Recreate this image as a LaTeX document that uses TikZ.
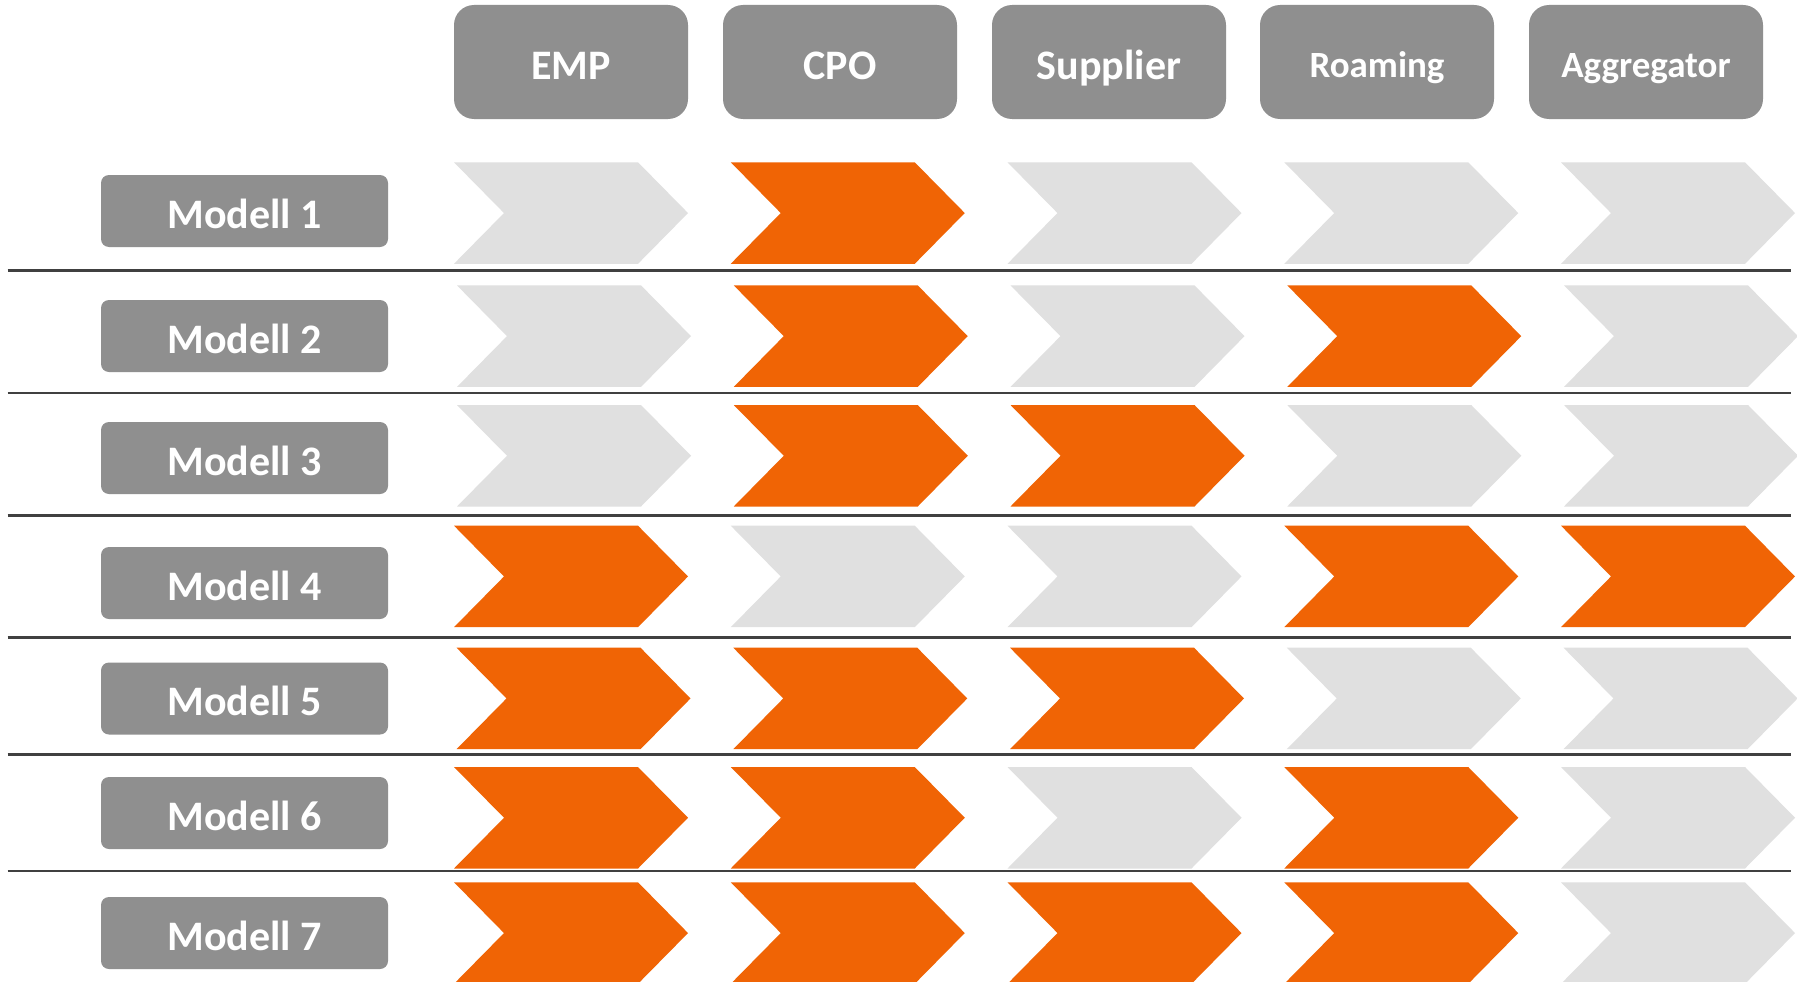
\documentclass[tikz,border=0pt]{standalone}
\usepackage{fontspec}
\setmainfont{Carlito}
\definecolor{boxgray}{HTML}{8F8F8F}
\definecolor{chev0}{HTML}{E0E0E0}
\definecolor{chev1}{HTML}{F06405}
\definecolor{rulegray}{HTML}{404040}
\begin{document}
\begin{tikzpicture}[x=1pt,y=-1pt,
  label box/.style={fill=boxgray, text=white, font=\fontsize{42}{50}\selectfont\bfseries,
    inner sep=0pt, text height=34.6pt, text depth=0pt, anchor=center},
  header/.style={label box, rounded corners=20pt, minimum width=234pt, minimum height=114pt},
  small label/.style={font=\fontsize{37}{44}\selectfont\bfseries, text height=30.6pt},
  model/.style={label box, rounded corners=8pt, minimum width=287pt, minimum height=72pt},
  sep rule/.style={draw=rulegray, line width=2.5pt}]
\fill[white] (0,0) rectangle (1797,982);
\useasboundingbox (0,0) rectangle (1797,982);

% header boxes
\node[header] (hEMP) at (571,62) {EMP};
\node[header] (hCPO) at (840,62) {CPO};
\node[header] (hSup) at (1109,62) {Supplier};
\node[header, small label] (hRoam) at (1377,62) {Roaming};
\node[header, small label] (hAgg) at (1646,62) {Aggregator};

% chevrons: row / top / x offset / states
\foreach \r/\t/\d/\st in {
  1/162.3/0/{0,1,0,0,0},
  2/285.4/3/{0,1,0,1,0},
  3/405.0/3/{0,1,1,0,0},
  4/525.7/0/{1,0,0,1,1},
  5/647.7/2.5/{1,1,1,0,0},
  6/767.0/0/{1,1,0,1,0},
  7/882.3/0/{1,1,1,1,0}}{
  \foreach \s [count=\c from 0] in \st {
    \pgfmathsetmacro{\L}{454+\c*276.75+\d}
    \fill[fill=chev\s] (\L,\t) -- ++(184,0) -- ++(50,50.75) -- ++(-50,50.75)
      -- ++(-184,0) -- ++(50,-50.75) -- cycle;
  }
}

% model labels
\node[model] (m1) at (244.5,211) {Modell 1};
\node[model] (m2) at (244.5,336) {Modell 2};
\node[model] (m3) at (244.5,458) {Modell 3};
\node[model] (m4) at (244.5,583) {Modell 4};
\node[model] (m5) at (244.5,698.5) {Modell 5};
\node[model] (m6) at (244.5,813) {Modell 6};
\node[model] (m7) at (244.5,933) {Modell 7};

% separator rules
\foreach \i/\y in {1/270.5,2/393,3/515.3,4/637.3,5/754.3,6/871}{
  \coordinate (rl\i) at (7.6,\y);
  \coordinate (rr\i) at (1791,\y);
  \draw[sep rule] (rl\i) -- (rr\i);
}
\end{tikzpicture}
\end{document}
